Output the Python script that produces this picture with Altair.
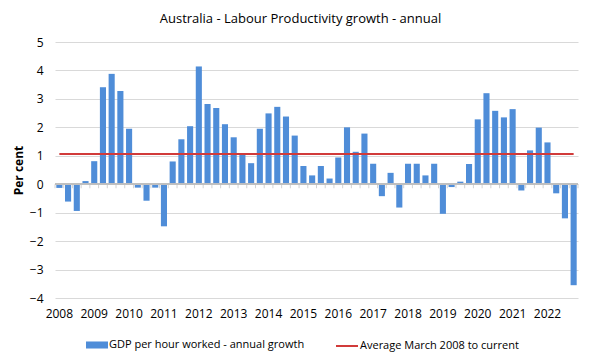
import altair as alt
import pandas as pd

years = list(range(2008, 2023))
quarters = ["Q1", "Q2", "Q3", "Q4"]
growth = [
    -0.13, -0.61, -0.94, 0.11,
    0.81, 3.41, 3.88, 3.28,
    1.95, -0.12, -0.58, -0.12,
    -1.48, 0.80, 1.58, 2.04,
    4.14, 2.82, 2.68, 2.11,
    1.65, 1.06, 0.74, 1.95,
    2.49, 2.72, 2.38, 1.71,
    0.64, 0.31, 0.64, 0.20,
    0.94, 2.00, 1.14, 1.78,
    0.72, -0.42, 0.40, -0.82,
    0.72, 0.72, 0.31, 0.72,
    -1.04, -0.10, 0.09, 0.71,
    2.28, 3.20, 2.58, 2.35,
    2.64, -0.22, 1.19, 1.99,
    1.47, -0.32, -1.20, -3.55,
]
average = 1.06
y_ticks = [-4, -3, -2, -1, 0, 1, 2, 3, 4, 5]
bar_name = "GDP per hour worked - annual growth"
line_name = "Average March 2008 to current"

labels = [f"{y} {q}" for y in years for q in quarters]
df = pd.DataFrame({"q": labels, "v": growth, "avg": [average] * len(labels),
                   "s1": bar_name, "s2": line_name, "zero": 0.0,
                   "first": [i == 0 for i in range(len(labels))]})

FONT = "Open Sans"
W, H = 523, 256
STEP = W / len(labels)

xaxis = alt.Axis(
    title=None, labelAngle=0, ticks=False, domain=False, grid=False,
    labelPadding=10, labelFontSize=12, labelColor="#000", labelFont=FONT,
    labelExpr="indexof(datum.value, 'Q1') > 0 ? substring(datum.value, 0, 4) : ''",
)
xs = alt.Scale(paddingInner=0.3, paddingOuter=0.15)
ys = alt.Scale(domain=[-4, 5], nice=False)
yaxis = alt.Axis(values=y_ticks, tickCount=10, title="Per cent",
                 titleFontWeight="bold", titleFontSize=12, titleFont=FONT,
                 titleColor="#000", labelFont=FONT, labelOverlap=False,
                 labelFontSize=12, labelColor="#000", labelPadding=12,
                 domain=False, ticks=False, gridColor="#d9d9d9",
                 titlePadding=4)

base = alt.Chart(df)

bars = base.mark_bar().encode(
    x=alt.X("q:O", sort=labels, scale=xs, axis=xaxis),
    y=alt.Y("v:Q", scale=ys, axis=yaxis),
    color=alt.Color("s1:N", scale=alt.Scale(range=["#4f8dd8"]),
                    legend=alt.Legend(title=None, orient="none", legendX=31, legendY=292,
                                      symbolType="M-1,-0.32H1V0.32H-1Z", symbolSize=484,
                                      symbolStrokeWidth=0, labelOffset=1, labelLimit=0,
                                      labelFontSize=11, labelFont=FONT, labelColor="#000")),
)

zero_line = base.mark_rule(color="#bfbfbf", strokeWidth=1).encode(
    y=alt.Y("zero:Q", axis=yaxis),
)

ticks_right = base.mark_tick(color="#bfbfbf", orient="vertical", size=4, thickness=1,
                             xOffset=STEP / 2, yOffset=2).encode(
    x=alt.X("q:O", sort=labels, axis=xaxis), y=alt.Y("zero:Q", axis=yaxis))
ticks_left = base.transform_filter("datum.first").mark_tick(
    color="#bfbfbf", orient="vertical", size=4, thickness=1,
    xOffset=-STEP / 2, yOffset=2).encode(
    x=alt.X("q:O", sort=labels, axis=xaxis), y=alt.Y("zero:Q", axis=yaxis))

line = base.mark_line(strokeWidth=2).encode(
    x=alt.X("q:O", sort=labels, axis=xaxis),
    y=alt.Y("avg:Q", axis=yaxis),
    stroke=alt.Stroke("s2:N", scale=alt.Scale(range=["#d13b3a"]),
                      legend=alt.Legend(title=None, orient="none", legendX=280, legendY=292,
                                        symbolType="stroke", symbolSize=484,
                                        symbolStrokeWidth=2, labelOffset=1, labelLimit=0,
                                        labelFontSize=11, labelFont=FONT, labelColor="#000")),
)

chart = alt.layer(bars, zero_line, ticks_right, ticks_left, line).properties(
    width=W, height=H,
    title=alt.Title("Australia - Labour Productivity growth - annual", fontSize=13,
                    font=FONT, fontWeight="normal", color="#000", offset=10, dx=-16),
    autosize="none",
    padding={"left": 47, "top": 34, "right": 14, "bottom": 60},
).configure_view(stroke=None)

chart.save("out.html", embed_options={"renderer": "svg", "actions": False})
